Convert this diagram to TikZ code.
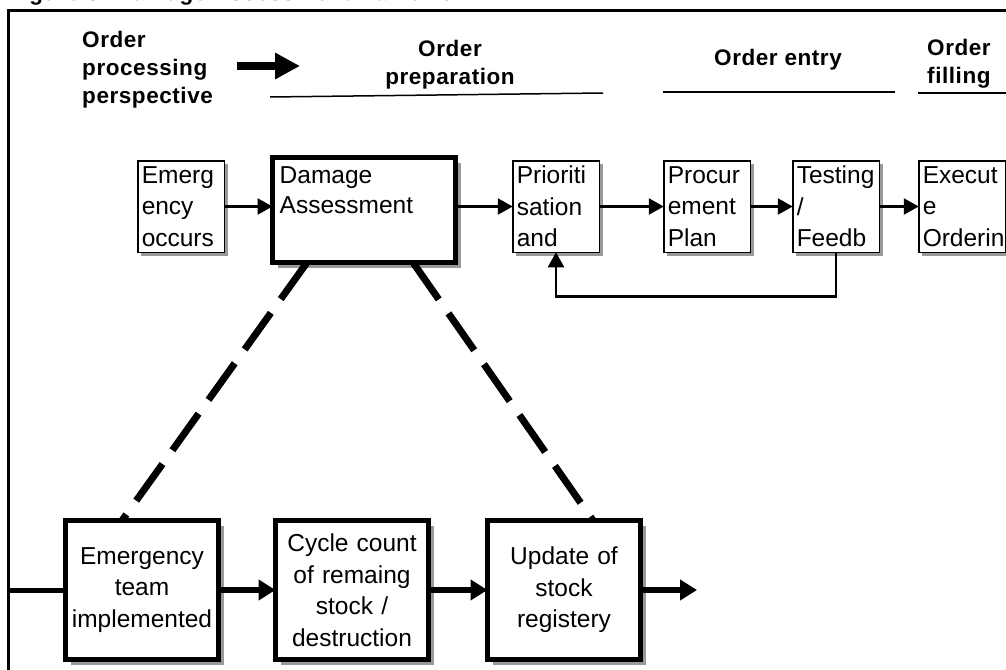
\documentclass[tikz,border=0pt]{standalone}
\usepackage{fontspec}
\setmainfont{Liberation Sans}
\newfontfamily\hdrfont[LetterSpace=2.5]{Liberation Sans}
\usepackage{tikz}
\usetikzlibrary{arrows.meta}
\usetikzlibrary{shadows}

\begin{document}
\begin{tikzpicture}[x=1pt,y=-1pt,
  >={Triangle[length=15pt,width=16pt]},
  flow/.style={->,line width=2.5pt},
  bigflow/.style={-{Triangle[length=17pt,width=20pt]},line width=6pt},
  link/.style={line width=7pt,dash pattern=on 45pt off 17pt},
  head/.style={inner sep=0pt,font=\hdrfont\bfseries\fontsize{22.5}{28}\selectfont},
  task/.style={draw,rectangle,line width=1.5pt,fill=white,align=left,text width=78.5pt,inner xsep=4pt,inner ysep=0pt,outer sep=0pt,minimum height=91.5pt,anchor=north west,font=\fontsize{24.5}{31.5}\selectfont,drop shadow={shadow xshift=3.5pt,shadow yshift=-3.5pt,fill=black!40,opacity=1}},
  phase/.style={draw,rectangle,line width=5pt,fill=white,align=center,text width=148pt,inner sep=0pt,outer sep=0pt,minimum width=153pt,minimum height=139pt,anchor=north west,font=\fontsize{24.5}{31.5}\selectfont,drop shadow={shadow xshift=5.5pt,shadow yshift=-5.5pt,fill=black!40,opacity=1}}]
      \useasboundingbox (0,0) rectangle (1006,669);
      \clip (0,0) rectangle (1006,669);

      % cut-off caption and frame
      \node [head,anchor=base west] (ttl) at (8,1) {Figure 3: Damage Assessment framework};
      \draw [line width=3pt] (8,11) rectangle (1030,700);

      % perspective headings
      \node [head,anchor=north west,align=left] (pers) at (82,31) {Order\\processing\\perspective};
      \node [head,anchor=north,align=center] (prep) at (450,40) {Order\\preparation};
      \node [head,anchor=base] (entry) at (778,66) {Order entry};
      \node [head,anchor=north west,align=left] (fill) at (927,39) {Order\\filling};
      \coordinate (a1) at (237,66);
      \coordinate (a2) at (300,66);
      \draw [line width=7pt,-{Triangle[length=25pt,width=25pt]}] (a1) -- (a2);
      \draw [line width=1.5pt] (270,97) -- (603,93);
      \draw [line width=1.5pt] (663,92) -- (895,92);
      \draw [line width=1.5pt] (918,93) -- (1006,93);

      % order flow
      \node [task] (emg) at (137.75,160.75) {Emerg\\ency\\occurs};
      \node [phase,minimum width=183pt,minimum height=105pt] (dmg) at (272.5,157.5) {};
      \node [anchor=north west,align=left,inner xsep=7pt,inner ysep=9pt,font=\fontsize{24.5}{30}\selectfont] (dmgtxt) at (dmg.north west) {Damage\\Assessment};
      \node [task] (pri) at (512.75,160.75) {Prioriti\\sation\\and};
      \node [task] (prc) at (663.75,160.75) {Procur\\ement\\Plan};
      \node [task] (tst) at (792.75,160.75) {Testing\\/\\Feedb};
      \node [task] (exe) at (918.75,160.75) {Execut\\e\\Orderin};

      \draw [flow] (emg.east) -- (emg.east -| dmg.west);
      \draw [flow] (dmg.east |- pri.west) -- (pri.west);
      \draw [flow] (pri) -- (prc);
      \draw [flow] (prc) -- (tst);
      \draw [flow] (tst) -- (exe);
      \draw [flow] (tst.south) -- ++(0,44) -| (pri.south);

      % stock handling
      \node [phase] (emt) at (65.5,520.5) {Emergency\\team\\implemented};
      \node [phase] (cyc) at (275.5,520.5) {Cycle count\\of remaing\\stock /\\destruction};
      \node [phase] (upd) at (487.5,520.5) {Update of\\stock\\registery};
      \coordinate (edge) at (8,590);
      \coordinate (out) at (697,590);

      \draw [line width=5pt] (edge) -- (emt.west);
      \draw [bigflow] (emt) -- (cyc);
      \draw [bigflow] (cyc) -- (upd);
      \draw [bigflow] (upd.east) -- (out);

      \draw [link] ([xshift=34.5pt]dmg.south west) -- ([xshift=56.5pt]emt.north west);
      \draw [link] ([xshift=140.5pt]dmg.south west) -- ([xshift=105.5pt]upd.north west);

  \end{tikzpicture}
\end{document}
